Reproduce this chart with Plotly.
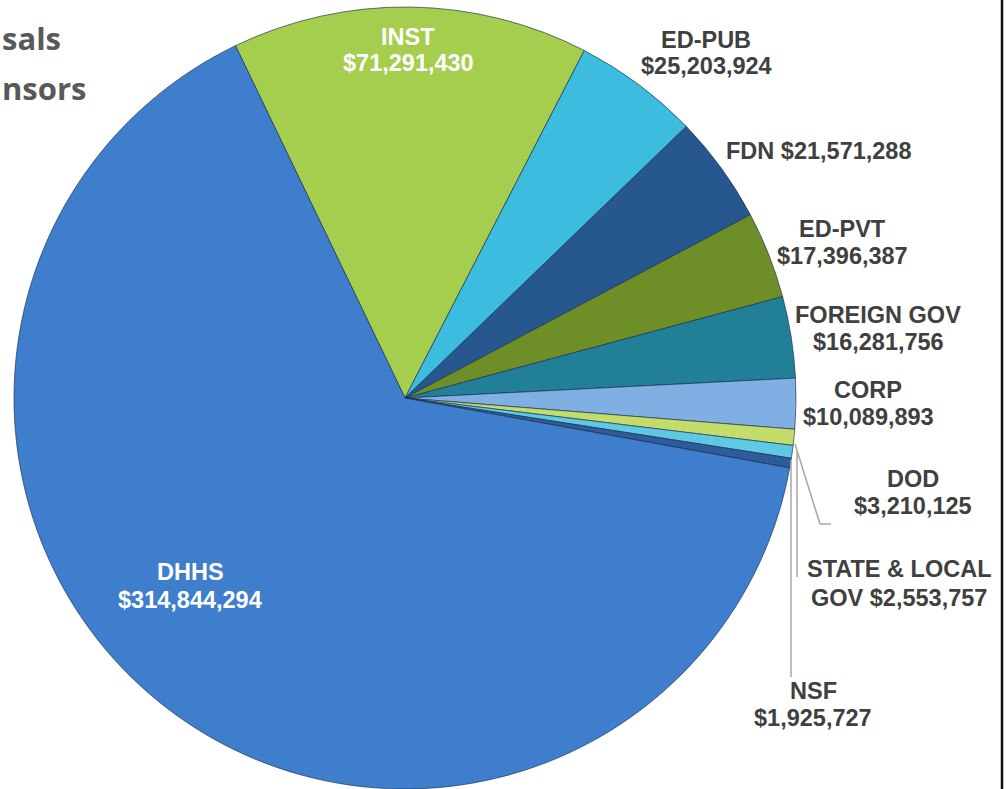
import plotly.graph_objects as go

# ---- data ----
sponsors = ["INST", "ED-PUB", "FDN", "ED-PVT", "FOREIGN GOV", "CORP", "DOD",
            "STATE & LOCAL GOV", "NSF", "DHHS"]
amounts = [71291430, 25203924, 21571288, 17396387, 16281756, 10089893, 3210125,
           2553757, 1925727, 314844294]
title_fragments = ["sals", "nsors"]   # visible (cropped) part of the title

# ---- style ----
colors = ["#a5cd4e", "#3cbcdf", "#27578f", "#6e8e27", "#227f98", "#80afe3",
          "#c4dc6a", "#5fc8e3", "#2d5b9b", "#3f7ecc"]

W, H = 1006, 789
FONT = "Liberation Sans, Arial"
FS = 23.5
DARK = "#404040"


def px(x, y):
    return x / W, 1 - y / H


fig = go.Figure()
fig.add_trace(go.Pie(
    labels=sponsors, values=amounts, sort=False, direction="clockwise",
    rotation=-25.7, textinfo="none", hoverinfo="label+value",
    marker=dict(colors=colors, line=dict(color="rgba(25,45,75,0.65)", width=1)),
    domain=dict(x=[14 / W, 796 / W], y=[0, 782 / H]),
    showlegend=False,
))


def fmt(v):
    return "${:,}".format(v)


annotations = []


def add_text(txt, x, y, color=DARK, size=FS, family=FONT, anchor="center"):
    xp, yp = px(x, y)
    annotations.append(dict(x=xp, y=yp, xref="paper", yref="paper",
                            text="<b>%s</b>" % txt, showarrow=False,
                            xanchor=anchor, yanchor="middle",
                            font=dict(family=family, size=size, color=color)))


# label layout: (x, first-line y), second-line y, colour
label_pos = {
    "INST": ((408, 37), 63, "white"),
    "ED-PUB": ((706, 40), 66, DARK),
    "ED-PVT": ((842, 229), 256, DARK),
    "FOREIGN GOV": ((878, 315), 342, DARK),
    "CORP": ((868, 390), 417, DARK),
    "DOD": ((913, 479), 506, DARK),
    "NSF": ((813, 691), 718, DARK),
    "DHHS": ((190, 572), 600, "white"),
}
for name, val in zip(sponsors, amounts):
    if name in label_pos:
        (x, y1), y2, col = label_pos[name]
        add_text(name, x, y1, col)
        add_text(fmt(val), x, y2, col)
    elif name == "FDN":
        add_text("%s %s" % (name, fmt(val)), 819, 151)
    elif name == "STATE & LOCAL GOV":
        add_text("STATE &amp; LOCAL", 899, 569)
        add_text("GOV " + fmt(val), 899, 598)

# cropped title fragments at the left edge
for txt, (x, yy) in zip(title_fragments, [(0, 38), (0, 88)]):
    add_text(txt, x, yy, color="#595959", size=31, family="Open Sans", anchor="left")

# leader lines
shapes = []


def polyline(points, color="#a6a6a6", width=1.5):
    for (xa, ya), (xb, yb) in zip(points[:-1], points[1:]):
        x0, y0 = px(xa, ya)
        x1, y1 = px(xb, yb)
        shapes.append(dict(type="line", xref="paper", yref="paper",
                           x0=x0, y0=y0, x1=x1, y1=y1,
                           line=dict(color=color, width=width)))


polyline([(795, 444), (820, 524), (831, 524)])
polyline([(797, 452), (797, 577)])
polyline([(791, 460), (791, 677)])

# right frame line
x0, _ = px(1002, 0)
shapes.append(dict(type="line", xref="paper", yref="paper", x0=x0, x1=x0, y0=0, y1=1,
                   line=dict(color="#111111", width=2.5)))

fig.update_layout(
    width=W, height=H, margin=dict(l=0, r=0, t=0, b=0),
    paper_bgcolor="white", plot_bgcolor="white",
    annotations=annotations, shapes=shapes,
)

fig.write_html("out.html", config={"displayModeBar": False},
               post_script="document.body.style.margin='0px';")
